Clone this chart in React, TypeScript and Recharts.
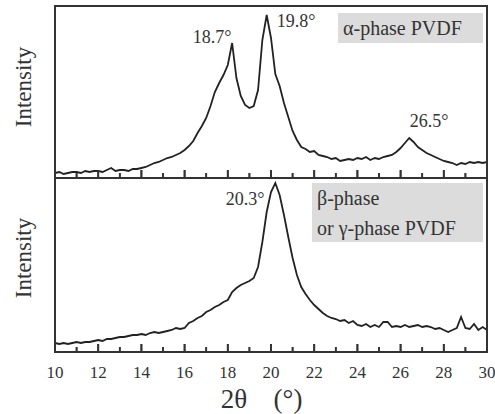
import React from "react";
import { LineChart, Line, XAxis, YAxis, ReferenceLine } from "recharts";

// 2θ positions (degrees), shared by both patterns
const THETA = [
  10.0, 10.2, 10.4, 10.6, 10.8, 11.0, 11.2, 11.4, 11.6, 11.8,
  12.0, 12.2, 12.4, 12.6, 12.8, 13.0, 13.2, 13.4, 13.6, 13.8,
  14.0, 14.2, 14.4, 14.6, 14.8, 15.0, 15.2, 15.4, 15.6, 15.8,
  16.0, 16.2, 16.4, 16.6, 16.8, 17.0, 17.2, 17.4, 17.6, 17.8,
  18.0, 18.2, 18.4, 18.6, 18.8, 19.0, 19.2, 19.4, 19.6, 19.8,
  20.0, 20.2, 20.4, 20.6, 20.8, 21.0, 21.2, 21.4, 21.6, 21.8,
  22.0, 22.2, 22.4, 22.6, 22.8, 23.0, 23.2, 23.4, 23.6, 23.8,
  24.0, 24.2, 24.4, 24.6, 24.8, 25.0, 25.2, 25.4, 25.6, 25.8,
  26.0, 26.2, 26.4, 26.6, 26.8, 27.0, 27.2, 27.4, 27.6, 27.8,
  28.0, 28.2, 28.4, 28.6, 28.8, 29.0, 29.2, 29.4, 29.6, 29.8,
  30.0,
];

// alpha-phase intensity (arb. units)
const ALPHA = [
  5, 6, 4, 5, 6, 6, 5, 7, 6, 7,
  7, 6, 8, 10, 7, 8, 8, 7, 9, 9,
  10, 11, 13, 15, 16, 18, 20, 21, 23, 25,
  28, 32, 37, 45, 52, 60, 72, 86, 95, 103,
  113, 135, 100, 82, 73, 70, 72, 88, 138, 163,
  140, 104, 92, 75, 61, 47, 38, 31, 29, 26,
  27, 23, 22, 21, 19, 20, 17, 18, 19, 18,
  20, 19, 21, 18, 20, 19, 21, 22, 23, 26,
  30, 35, 40, 36, 31, 28, 25, 23, 21, 19,
  17, 16, 15, 13, 15, 14, 16, 15, 16, 15,
  16,
];

// beta / gamma-phase intensity (arb. units)
const BETA = [
  9, 8, 9, 8, 9, 10, 9, 10, 10, 11,
  12, 11, 13, 13, 14, 15, 15, 16, 17, 17,
  18, 17, 19, 20, 19, 20, 21, 22, 24, 23,
  24, 29, 31, 34, 36, 40, 42, 45, 47, 50,
  52, 60, 64, 67, 69, 71, 74, 85, 110, 140,
  160, 169, 157, 137, 115, 94, 77, 65, 58, 52,
  47, 43, 39, 36, 34, 33, 31, 32, 29, 31,
  27, 26, 28, 25, 27, 25, 30, 30, 25, 26,
  25, 27, 25, 26, 27, 25, 26, 25, 23, 24,
  22, 20, 22, 24, 35, 24, 23, 28, 22, 25,
  22,
];

const MAJOR_TICKS = [10, 12, 14, 16, 18, 20, 22, 24, 26, 28, 30];
const MINOR_TICKS = [11, 13, 15, 17, 19, 21, 23, 25, 27, 29];
const ALL_TICKS = [
  10, 11, 12, 13, 14, 15, 16, 17, 18, 19, 20,
  21, 22, 23, 24, 25, 26, 27, 28, 29, 30,
];

const topData = THETA.map((t, i) => ({ theta: t, value: ALPHA[i] }));
const bottomData = THETA.map((t, i) => ({ theta: t, value: BETA[i] }));

const INK = "#333";
const FONT = "'Liberation Serif', 'Times New Roman', serif";

// inward tick mark plus (optionally) the label under the axis
function AxisTick(props: any) {
  const x = Number(props.x);
  const y = Number(props.y);
  const v = props.payload.value;
  const major = v % 2 === 0;
  const len = major ? 8 : 5;
  return (
    <g>
      <rect x={x - 0.9} y={y - len} width={1.8} height={len} fill={INK} />
      {props.showLabel && major && (
        <text
          x={x}
          y={y + 20}
          textAnchor="middle"
          dominantBaseline="central"
          fill={INK}
          fontSize={17}
          fontFamily={FONT}
        >
          {v}
        </text>
      )}
    </g>
  );
}

const abs = (style: React.CSSProperties): React.CSSProperties => ({
  position: "absolute",
  ...style,
});

function Note({ x, y, text, size = 18 }: { x: number; y: number; text: string; size?: number }) {
  return (
    <div
      style={abs({
        left: x,
        top: y,
        transform: "translate(-50%, -50%)",
        fontSize: size,
        lineHeight: 1,
        whiteSpace: "pre",
        color: INK,
      })}
    >
      {text}
    </div>
  );
}

export default function App() {
  return (
    <div
      style={abs({
        left: 0,
        top: 0,
        width: 495,
        height: 414,
        background: "#fff",
        fontFamily: FONT,
        overflow: "hidden",
      })}
    >
      <div style={abs({ left: 0, top: 0 })}>
        <LineChart
          width={495}
          height={180}
          data={topData}
          margin={{ top: 6, right: 8, bottom: 0, left: 55 }}
        >
          <XAxis
            dataKey="theta"
            type="number"
            domain={[10, 30]}
            ticks={ALL_TICKS}
            interval={0}
            height={2}
            tickSize={0}
            tickMargin={0}
            tickLine={false}
            axisLine={{ stroke: INK, strokeWidth: 2 }}
            tick={<AxisTick showLabel={false} />}
          />
          <YAxis hide domain={[0, 172]} />
          {MAJOR_TICKS.map((t) => (
            <ReferenceLine key={"M" + t} segment={[{ x: t, y: 0 }, { x: t, y: 8 }]} stroke={INK} strokeWidth={1.8} />
          ))}
          {MINOR_TICKS.map((t) => (
            <ReferenceLine key={"m" + t} segment={[{ x: t, y: 0 }, { x: t, y: 5 }]} stroke={INK} strokeWidth={1.6} />
          ))}
          <Line
            dataKey="value"
            stroke="#222"
            strokeWidth={1.8}
            dot={false}
            isAnimationActive={false}
          />
        </LineChart>
      </div>
      <div style={abs({ left: 0, top: 178 })}>
        <LineChart
          width={495}
          height={236}
          data={bottomData}
          margin={{ top: 0, right: 8, bottom: 32, left: 55 }}
        >
          <XAxis
            dataKey="theta"
            type="number"
            domain={[10, 30]}
            ticks={ALL_TICKS}
            interval={0}
            height={30}
            tickSize={0}
            tickMargin={0}
            tickLine={false}
            axisLine={{ stroke: INK, strokeWidth: 2 }}
            tick={<AxisTick showLabel={true} />}
          />
          <YAxis hide domain={[0, 174]} />
          {MAJOR_TICKS.map((t) => (
            <ReferenceLine key={"M" + t} segment={[{ x: t, y: 0 }, { x: t, y: 8 }]} stroke={INK} strokeWidth={1.8} />
          ))}
          {MINOR_TICKS.map((t) => (
            <ReferenceLine key={"m" + t} segment={[{ x: t, y: 0 }, { x: t, y: 5 }]} stroke={INK} strokeWidth={1.6} />
          ))}
          <Line
            dataKey="value"
            stroke="#222"
            strokeWidth={1.8}
            dot={false}
            isAnimationActive={false}
          />
        </LineChart>
      </div>

      {/* frame */}
      <svg
        width={495}
        height={414}
        style={abs({ left: 0, top: 0, pointerEvents: "none" })}
      >
        <rect x={55} y={6} width={432} height={346} fill="none" stroke={INK} strokeWidth={2} />
        <line x1={55} x2={487} y1={178} y2={178} stroke={INK} strokeWidth={2} />
      </svg>

      {/* phase boxes */}
      <div
        style={abs({
          left: 338,
          top: 13,
          width: 145,
          height: 30,
          background: "#dcdcdc",
          fontSize: 20,
          lineHeight: "30px",
          paddingLeft: 5,
          boxSizing: "border-box",
          color: INK,
          whiteSpace: "nowrap",
        })}
      >
        α-phase PVDF
      </div>
      <div
        style={abs({
          left: 312,
          top: 183,
          width: 171,
          height: 59,
          background: "#dcdcdc",
          fontSize: 20,
          lineHeight: "30px",
          paddingLeft: 5,
          boxSizing: "border-box",
          color: INK,
          whiteSpace: "nowrap",
        })}
      >
        β-phase
        <br />
        or γ-phase PVDF
      </div>

      {/* peak notes */}
      <Note x={212} y={37} text="18.7°" />
      <Note x={296} y={21} text="19.8°" />
      <Note x={429} y={121} text="26.5°" />
      <Note x={245} y={199} text="20.3°" />

      {/* axis titles */}
      {[87, 258].map((cy) => (
        <div
          key={cy}
          style={abs({
            left: 23,
            top: cy,
            transform: "translate(-50%, -50%) rotate(-90deg)",
            fontSize: 23,
            lineHeight: 1,
            whiteSpace: "nowrap",
            color: INK,
          })}
        >
          Intensity
        </div>
      ))}
      <Note x={234} y={399} text="2θ" size={27} />
      <Note x={288} y={399} text="(°)" size={27} />
    </div>
  );
}
